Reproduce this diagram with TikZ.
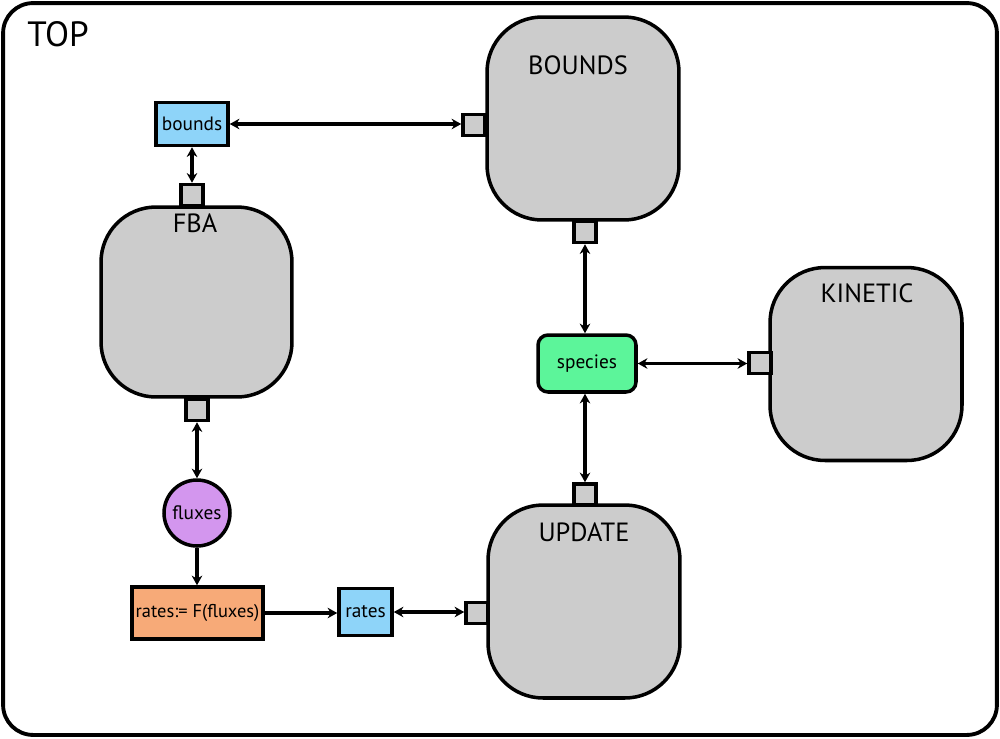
\documentclass[tikz,border=0pt]{standalone}
\usepackage{fontspec}
\setmainfont{PT Sans}
\usetikzlibrary{arrows.meta}
\definecolor{boxgray}{HTML}{CCCCCC}
\definecolor{storeblue}{HTML}{8ED4F9}
\definecolor{speciesgreen}{HTML}{5CF59A}
\definecolor{fluxpurple}{HTML}{D396EE}
\definecolor{rateorange}{HTML}{F7AA78}
\begin{document}
\begin{tikzpicture}[x=0.02cm,y=-0.02cm,
  lw/.style={line width=2pt},
  module/.style={draw, lw, fill=boxgray, rounded corners=1.1cm, inner sep=0pt},
  port/.style={draw, lw, fill=boxgray, minimum width=0.44cm, minimum height=0.42cm, inner sep=0pt},
  modlabel/.style={font=\fontsize{15}{18}\selectfont, anchor=north, inner sep=0pt},
  store/.style={draw, lw, inner sep=0pt, font=\fontsize{11}{13}\selectfont},
  both/.style={lw, {Stealth[length=5.5pt,width=6pt]}-{Stealth[length=5.5pt,width=6pt]}},
  oneway/.style={lw, -{Stealth[length=5.5pt,width=6pt]}}
]
\useasboundingbox (0,0) rectangle (1000,738);
% outer frame
\node[draw, line width=2.2pt, rounded corners=0.6cm, minimum width=19.88cm, minimum height=14.64cm, inner sep=0pt] (top) at (500,369) {};
\node[font=\fontsize{20}{24}\selectfont, anchor=north west, inner sep=0pt] (toplabel) at (27,21) {TOP};

% modules
\node[module, minimum width=3.82cm, minimum height=3.8cm] (fba) at (196.5,302) {};
\node[modlabel] (fbalabel) at (195,213) {FBA};
\node[module, minimum width=3.84cm, minimum height=4.06cm] (bnds) at (583,118.5) {};
\node[modlabel] (bndslabel) at (578,55) {BOUNDS};
\node[module, minimum width=3.84cm, minimum height=3.86cm] (kin) at (866,364) {};
\node[modlabel] (kinlabel) at (867,283) {KINETIC};
\node[module, minimum width=3.84cm, minimum height=3.86cm] (upd) at (584,601.5) {};
\node[modlabel] (updlabel) at (584,522) {UPDATE};

% ports
\node[port] (pFtop) at (192,195) {};
\node[port] (pFbot) at (197,410) {};
\node[port] (pBleft) at (474,125) {};
\node[port] (pBbot) at (585,232) {};
\node[port] (pK) at (760,363) {};
\node[port] (pUtop) at (585,494.5) {};
\node[port] (pUleft) at (477,613) {};

% stores
\node[store, fill=storeblue, minimum width=1.44cm, minimum height=0.86cm] (bounds) at (192,124) {bounds};
\node[store, fill=speciesgreen, rounded corners=0.2cm, minimum width=1.96cm, minimum height=1.14cm] (species) at (587,363.5) {species};
\node[store, fill=fluxpurple, circle, minimum size=1.32cm] (fluxes) at (197,513) {fluxes};
\node[store, fill=rateorange, minimum width=2.62cm, minimum height=1.04cm, font=\fontsize{10.5}{12}\selectfont] (ratef) at (197.5,613) {rates:= F(fluxes)};
\node[store, fill=storeblue, minimum width=1.06cm, minimum height=0.94cm] (rates) at (365.5,612) {rates};

% connectors
\draw[both] (bounds.east) -- (bounds.east -| pBleft.west);
\draw[both] (bounds.south) -- (pFtop.north);
\draw[both] (pFbot.south) -- (fluxes.north);
\draw[oneway] (fluxes.south) -- (fluxes.south |- ratef.north);
\draw[oneway] (ratef.east) -- (ratef.east -| rates.west);
\draw[both] (rates.east) -- (rates.east -| pUleft.west);
\draw[both] (pBbot.south) -- (pBbot.south |- species.north);
\draw[both] (pUtop.north |- species.south) -- (pUtop.north);
\draw[both] (species.east) -- (species.east -| pK.west);
\end{tikzpicture}
\end{document}
